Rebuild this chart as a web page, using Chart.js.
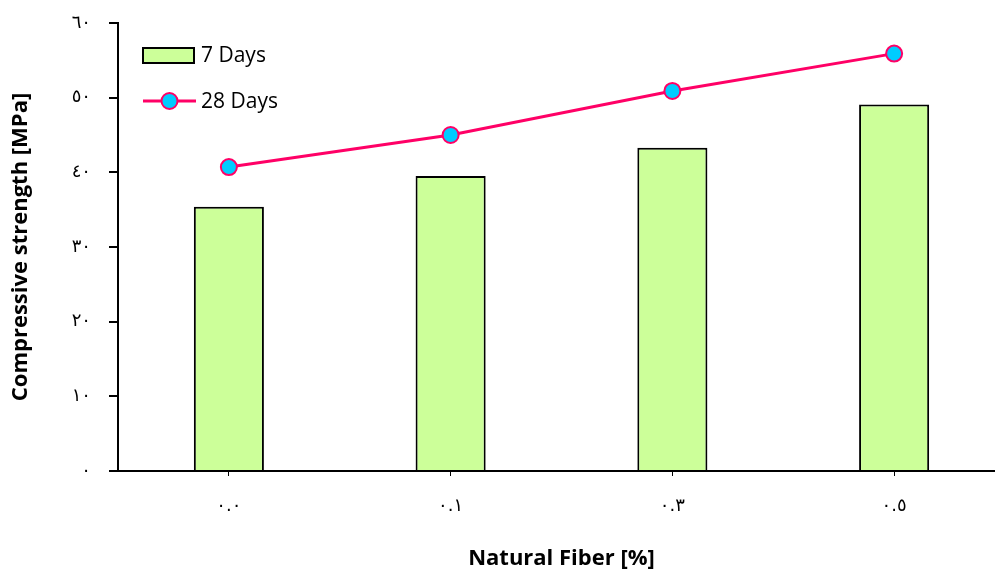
<!DOCTYPE html>
<html><head><meta charset="utf-8">
<script src="https://cdn.jsdelivr.net/npm/chart.js@4"></script>
<style>html,body{margin:0;padding:0;overflow:hidden;background:#fff}#wrap{width:1015px;height:572px}</style>
</head><body><div id="wrap"><canvas id="c" width="1015" height="572"></canvas></div>
<script>
const categories = ['٠.٠', '٠.١', '٠.٣', '٠.٥'];
const days7 = [35.4, 39.5, 43.3, 49.1];
const days28 = [40.7, 45.0, 50.9, 55.9];
const yTickLabels = ['٠', '١٠', '٢٠', '٣٠', '٤٠', '٥٠', '٦٠'];
const seriesNames = ['7 Days', '28 Days'];
const axisTitles = { x: 'Natural Fiber [%]', y: 'Compressive strength [MPa]' };

const legendPlugin = {
  id: 'customLegend',
  afterDraw(chart) {
    const ctx = chart.ctx;
    const a = chart.chartArea;
    const bar = chart.data.datasets[1];
    const line = chart.data.datasets[0];
    ctx.save();
    const x0 = a.left + 25, y0 = a.top + 25;
    ctx.fillStyle = bar.backgroundColor;
    ctx.fillRect(x0, y0, 51, 15);
    ctx.lineWidth = 2; ctx.strokeStyle = bar.borderColor;
    ctx.strokeRect(x0, y0, 51, 15);
    ctx.font = '21px "Open Sans", sans-serif';
    ctx.fillStyle = '#000'; ctx.textBaseline = 'middle'; ctx.textAlign = 'left';
    ctx.fillText(bar.label, x0 + 58, y0 + 8);
    const y1 = y0 + 53;
    ctx.strokeStyle = line.borderColor; ctx.lineWidth = line.borderWidth;
    ctx.beginPath(); ctx.moveTo(x0, y1); ctx.lineTo(x0 + 53, y1); ctx.stroke();
    ctx.beginPath(); ctx.arc(x0 + 26.5, y1, line.pointRadius, 0, Math.PI * 2);
    ctx.fillStyle = line.pointBackgroundColor; ctx.fill();
    ctx.lineWidth = line.pointBorderWidth; ctx.strokeStyle = line.pointBorderColor; ctx.stroke();
    ctx.fillStyle = '#000';
    ctx.fillText(line.label, x0 + 58, y1 + 1);
    ctx.restore();
  }
};

new Chart(document.getElementById('c'), {
  data: {
    labels: categories,
    datasets: [
      {
        type: 'line', label: seriesNames[1], data: days28, order: 0,
        borderColor: '#FF0066', borderWidth: 3,
        pointRadius: 8, pointHoverRadius: 8,
        pointBackgroundColor: '#00CCFF', pointBorderColor: '#FF0066', pointBorderWidth: 2,
        tension: 0
      },
      {
        type: 'bar', label: seriesNames[0], data: days7, order: 1,
        backgroundColor: '#CCFF99', borderColor: '#000000', borderWidth: 2,
        categoryPercentage: 1, barPercentage: 0.316
      }
    ]
  },
  options: {
    responsive: false, animation: false, devicePixelRatio: 1,
    layout: { padding: { top: 23, right: 2, left: 0, bottom: 0 } },
    plugins: { legend: { display: false }, tooltip: { enabled: false } },
    scales: {
      x: {
        offset: true,
        grid: { display: true, offset: false, drawOnChartArea: false, drawTicks: true, tickLength: 5, color: '#000', lineWidth: 1 },
        border: { display: true, color: '#000', width: 2 },
        ticks: { color: '#000', padding: 20, font: { family: '"DejaVu Sans"', size: 18 } },
        title: { display: true, text: axisTitles.x, color: '#000', font: { family: '"Open Sans"', size: 22, weight: 'bold' }, padding: { top: 6, bottom: 0 } },
        afterFit: s => { s.height = 101; }
      },
      y: {
        min: 0, max: 60,
        grid: { display: true, drawOnChartArea: false, drawTicks: true, tickLength: 9, color: '#000', lineWidth: 2 },
        border: { display: true, color: '#000', width: 2 },
        ticks: { stepSize: 10, color: '#000', padding: 18, font: { family: '"DejaVu Sans"', size: 18 },
          callback: v => yTickLabels[v / 10] },
        title: { display: true, text: axisTitles.y, color: '#000', font: { family: '"Open Sans"', size: 22, weight: 'bold' }, padding: { top: 8, bottom: 0 } },
        afterFit: s => { s.width = 118; s.paddingTop = 0; s.paddingBottom = 0; }
      }
    }
  },
  plugins: [legendPlugin]
});
</script>
</body></html>
